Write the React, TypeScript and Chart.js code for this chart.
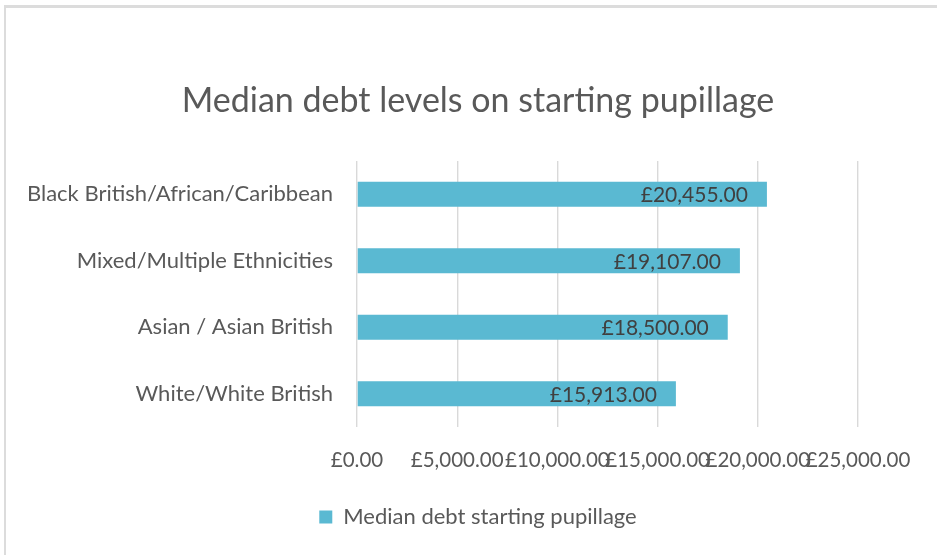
import { useEffect, useRef } from "react";
import { Chart, registerables } from "chart.js";

Chart.register(...registerables);

const chartTitle = "Median debt levels on starting pupillage";
const seriesLabel = "Median debt starting pupillage";
const categories = [
  "Black British/African/Caribbean",
  "Mixed/Multiple Ethnicities",
  "Asian / Asian British",
  "White/White British",
];
const medianDebt = [20455, 19107, 18500, 15913];
const xMin = 0;
const xMax = 25000;
const xStep = 5000;

const FONT = "Lato, 'Open Sans', sans-serif";
const TEXT = "#595959";

function fmt(v: number): string {
  const fixed = Math.abs(v).toFixed(2);
  const [intPart, dec] = fixed.split(".");
  const withCommas = intPart.replace(/\B(?=(\d{3})+(?!\d))/g, ",");
  return (v < 0 ? "-" : "") + "£" + withCommas + "." + dec;
}

const barLabelPlugin = {
  id: "barLabels",
  afterLayout(chart: any) {
    // let the long category labels extend into the left padding without clipping
    if (chart.scales.y) chart.scales.y.left = 0;
  },
  afterDatasetsDraw(chart: any) {
    const ctx = chart.ctx;
    const meta = chart.getDatasetMeta(0);
    ctx.save();
    ctx.font = `21px ${FONT}`;
    ctx.fillStyle = "#404040";
    ctx.textAlign = "right";
    ctx.textBaseline = "middle";
    meta.data.forEach((el: any, i: number) => {
      ctx.fillText(fmt(medianDebt[i]), el.x - 19, el.y + 1);
    });
    ctx.restore();
  },
};

export default function App() {
  const ref = useRef<HTMLCanvasElement | null>(null);

  useEffect(() => {
    if (!ref.current) return;
    const chart = new Chart(ref.current, {
      type: "bar",
      data: {
        labels: categories,
        datasets: [
          {
            label: seriesLabel,
            data: medianDebt,
            backgroundColor: "#5ab9d2",
            borderWidth: 0,
            barPercentage: 0.375,
            categoryPercentage: 1,
          },
        ],
      },
      plugins: [barLabelPlugin],
      options: {
        indexAxis: "y",
        animation: false,
        responsive: false,
        devicePixelRatio: 1,
        layout: { padding: { left: 98, right: 79, top: 5, bottom: 17 } },
        plugins: {
          title: {
            display: true,
            text: chartTitle,
            color: TEXT,
            font: { family: FONT, size: 34, weight: "normal" },
            padding: { top: 75.6, bottom: 39.6 },
          },
          legend: {
            position: "bottom",
            labels: {
              boxWidth: 13,
              boxHeight: 13,
              color: TEXT,
              font: { family: FONT, size: 22 },
              padding: 10,
            },
          },
          tooltip: { enabled: false },
        },
        scales: {
          x: {
            min: xMin,
            max: xMax,
            ticks: {
              stepSize: xStep,
              callback: (v: any) => fmt(Number(v)),
              color: TEXT,
              font: { family: FONT, size: 20.5 },
              padding: 21,
              maxRotation: 0,
              minRotation: 0,
              autoSkip: false,
            },
            grid: { color: "#d9d9d9", lineWidth: 1.4, drawTicks: false },
            border: { display: false },
            afterFit: (s: any) => {
              s.height = 69;
            },
          },
          y: {
            ticks: {
              color: TEXT,
              font: { family: FONT, size: 22 },
              padding: 24,
            },
            grid: { display: false, drawTicks: false },
            border: { display: false },
            afterFit: (s: any) => {
              s.width = 259;
            },
          },
        },
      } as any,
    });
    return () => chart.destroy();
  }, []);

  return (
    <div
      style={{
        position: "fixed",
        left: 0,
        top: 0,
        width: 937,
        height: 555,
        overflow: "hidden",
        background: "#ffffff",
      }}
    >
      <div
        style={{
          position: "absolute",
          left: 4,
          top: 5,
          width: 1000,
          height: 600,
          borderTop: "3px solid #dcdcdc",
          borderLeft: "2px solid #dcdcdc",
        }}
      />
      <canvas
        ref={ref}
        width={937}
        height={555}
        style={{ position: "absolute", left: 0, top: 0, width: 937, height: 555 }}
      />
    </div>
  );
}
